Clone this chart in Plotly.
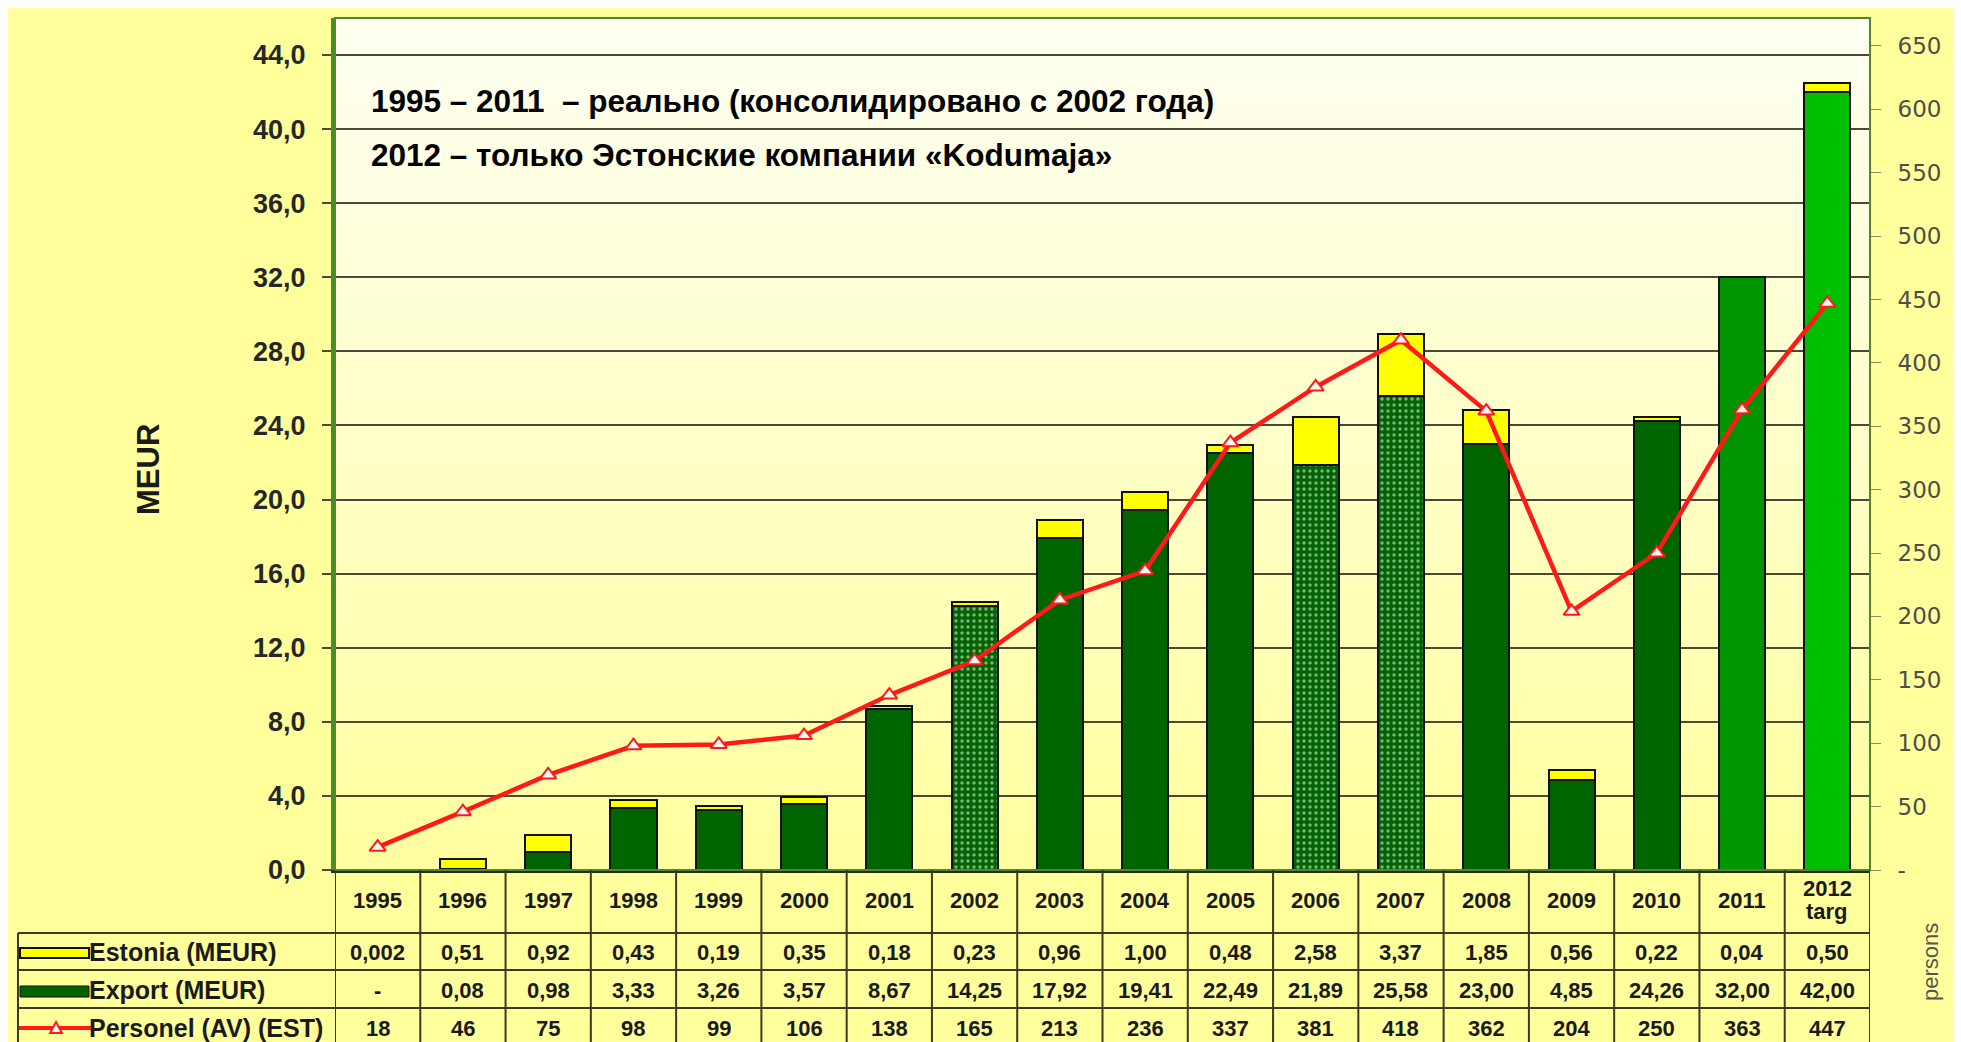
import plotly.graph_objects as go

# ---------------- data ----------------
years = ["1995", "1996", "1997", "1998", "1999", "2000", "2001", "2002", "2003",
         "2004", "2005", "2006", "2007", "2008", "2009", "2010", "2011", "2012<br>targ"]
estonia = [0.002, 0.51, 0.92, 0.43, 0.19, 0.35, 0.18, 0.23, 0.96,
           1.00, 0.48, 2.58, 3.37, 1.85, 0.56, 0.22, 0.04, 0.50]
export = [0, 0.08, 0.98, 3.33, 3.26, 3.57, 8.67, 14.25, 17.92,
          19.41, 22.49, 21.89, 25.58, 23.00, 4.85, 24.26, 32.00, 42.00]
personel = [18, 46, 75, 98, 99, 106, 138, 165, 213,
            236, 337, 381, 418, 362, 204, 250, 363, 447]
row_labels = ["Estonia (MEUR)", "Export (MEUR)", "Personel (AV) (EST)"]
note1 = "1995 – 2011 \u00a0– реально (консолидировано с 2002 года)"
note2 = "2012 – только Эстонские компании «Kodumaja»"
right_tickvals = [0, 50, 100, 150, 200, 250, 300, 350, 400, 450, 500, 550, 600, 650]
right_ticktext = ["-", "50", "100", "150", "200", "250", "300", "350", "400",
                  "450", "500", "550", "600", "650"]

# ---------------- styling ----------------
W, H = 1961, 1042
L, R, T, B = 327, 99, 10, 180
PW, PH = W - L - R, H - T - B
FONT = "Liberation Sans, Arial, sans-serif"
TXT = "#1a1a1a"
GRID = "#4a4a38"
TABLE_LINE = "#3a3a20"

export_colors = ["#006400"] * 16 + ["#009400", "#00BE00"]
export_pattern = ["" for _ in years]
for i in (7, 11, 12):  # stippled bars 2002, 2006, 2007
    export_pattern[i] = "."


def px_x(px):
    return (px - L) / PW


def px_y(py):
    return (H - B - py) / PH


def fmt(v):
    if v == 0:
        return "-"
    s = f"{v:.3f}" if v < 0.01 else f"{v:.2f}"
    return s.replace(".", ",")


fig = go.Figure()

fig.add_trace(go.Bar(
    x=years, y=export, name="Export (MEUR)",
    marker=dict(color=export_colors, line=dict(color="#111111", width=2),
                pattern=dict(shape=export_pattern, fgcolor="#3fae3f",
                             size=6, solidity=0.25)),
    showlegend=False,
))
fig.add_trace(go.Bar(
    x=years, y=estonia, name="Estonia (MEUR)",
    marker=dict(color="#FFFF00", line=dict(color="#111111", width=2)),
    showlegend=False,
))
fig.add_trace(go.Scatter(
    x=years, y=personel, yaxis="y2", name="Personel (AV) (EST)",
    mode="lines+markers",
    line=dict(color="#FF1A1A", width=4.5),
    marker=dict(symbol="triangle-up", size=14, color="#FFF4F4",
                line=dict(color="#FF1A1A", width=2)),
    showlegend=False,
))

shapes = []
# gradient plot background
n = 40
for k in range(n):
    t = k / (n - 1)
    g = int(160 + (242 - 160) * t)
    shapes.append(dict(type="rect", xref="paper", yref="paper",
                       x0=0, x1=1, y0=k / n, y1=(k + 1) / n,
                       fillcolor=f"rgb(255,255,{g})", line=dict(width=0),
                       layer="below"))
# plot frame (green)
shapes.append(dict(type="rect", xref="paper", yref="paper", x0=0, x1=1, y0=0, y1=1,
                   line=dict(color="#4f8a2a", width=2), fillcolor="rgba(0,0,0,0)",
                   layer="above"))

# table lines
row_edges = [px_y(925), px_y(962), px_y(1000), px_y(1040)]
for ye in row_edges:
    shapes.append(dict(type="line", xref="paper", yref="paper",
                       x0=px_x(10), x1=1, y0=ye, y1=ye,
                       line=dict(color=TABLE_LINE, width=2)))
for i in range(len(years) + 1):
    shapes.append(dict(type="line", xref="x", yref="paper",
                       x0=i - 0.5, x1=i - 0.5, y0=0, y1=row_edges[-1],
                       line=dict(color=TABLE_LINE, width=2)))
shapes.append(dict(type="line", xref="paper", yref="paper",
                   x0=px_x(10), x1=px_x(10), y0=row_edges[0], y1=row_edges[-1],
                   line=dict(color=TABLE_LINE, width=2)))

# legend keys in the table
shapes.append(dict(type="rect", xref="paper", yref="paper",
                   x0=px_x(12), x1=px_x(81), y0=px_y(950), y1=px_y(940),
                   fillcolor="#FFFF00", line=dict(color="#111111", width=2)))
shapes.append(dict(type="rect", xref="paper", yref="paper",
                   x0=px_x(12), x1=px_x(81), y0=px_y(989), y1=px_y(978),
                   fillcolor="#006400", line=dict(color="#111111", width=1)))
shapes.append(dict(type="line", xref="paper", yref="paper",
                   x0=px_x(11), x1=px_x(83), y0=px_y(1020), y1=px_y(1020),
                   line=dict(color="#FF1A1A", width=4)))
tx, ty = 48, 1020
shapes.append(dict(type="path", xref="paper", yref="paper",
                   path=f"M {px_x(tx-6)} {px_y(ty+5)} L {px_x(tx+6)} {px_y(ty+5)} "
                        f"L {px_x(tx)} {px_y(ty-6)} Z",
                   fillcolor="#FFF4F4", line=dict(color="#FF1A1A", width=2)))

annotations = []
cell_font = dict(family=FONT, size=22, color=TXT, weight="bold")
# year header (multi-line labels split so their line spacing is tight)
for i, yr in enumerate(years):
    parts = yr.split("<br>")
    nparts = len(parts)
    for j, part in enumerate(parts):
        cy = 892 + (j - (nparts - 1) / 2) * 23
        annotations.append(dict(x=i, y=px_y(cy), xref="x", yref="paper",
                                text=part, showarrow=False, xanchor="center",
                                yanchor="middle", font=cell_font))
# table rows
row_y = [px_y(944), px_y(982), px_y(1020)]
for vals, yy in ((estonia, row_y[0]), (export, row_y[1])):
    for i, v in enumerate(vals):
        annotations.append(dict(x=i, y=yy, xref="x", yref="paper", text=fmt(v),
                                showarrow=False, xanchor="center", yanchor="middle",
                                font=cell_font))
for i, v in enumerate(personel):
    annotations.append(dict(x=i, y=row_y[2], xref="x", yref="paper", text=str(v),
                            showarrow=False, xanchor="center", yanchor="middle",
                            font=cell_font))
for lab, yy in zip(row_labels, row_y):
    annotations.append(dict(x=px_x(79), y=yy, xref="paper", yref="paper", text=lab,
                            showarrow=False, xanchor="left", yanchor="middle",
                            font=dict(family=FONT, size=25, color=TXT, weight="bold")))
# notes
annotations.append(dict(x=px_x(361), y=px_y(93), xref="paper", yref="paper", text=note1,
                        showarrow=False, xanchor="left", yanchor="middle",
                        font=dict(family=FONT, size=31.5, color="#000000", weight="bold")))
annotations.append(dict(x=px_x(361), y=px_y(147), xref="paper", yref="paper", text=note2,
                        showarrow=False, xanchor="left", yanchor="middle",
                        font=dict(family=FONT, size=31.5, color="#000000", weight="bold")))
# axis titles
annotations.append(dict(x=px_x(140), y=px_y(462), xref="paper", yref="paper", text="MEUR",
                        showarrow=False, textangle=-90, xanchor="center", yanchor="middle",
                        font=dict(family=FONT, size=31, color=TXT, weight="bold")))
annotations.append(dict(x=px_x(1922), y=px_y(954), xref="paper", yref="paper", text="persons",
                        showarrow=False, textangle=-90, xanchor="center", yanchor="middle",
                        font=dict(family=FONT, size=22, color="#555555")))

fig.update_layout(
    width=W, height=H,
    margin=dict(l=L, r=R, t=T, b=B, pad=0),
    paper_bgcolor="#FFFF9C",
    plot_bgcolor="#FFFFD0",
    barmode="stack",
    bargap=0.46,
    separators=", ",
    showlegend=False,
    xaxis=dict(type="category", range=[-0.5, len(years) - 0.5],
               showticklabels=False, ticks="", showgrid=False,
               showline=True, linecolor="#2a2a1a", linewidth=3, zeroline=False),
    yaxis=dict(range=[0, 46], dtick=4, tick0=0, tickformat=".1f",
               showgrid=True, gridcolor=GRID, gridwidth=2,
               ticks="outside", ticklen=9, tickcolor=GRID, tickwidth=2,
               tickfont=dict(family=FONT, size=27, color="#262626", weight="bold"),
               showline=True, linecolor="#4f8a2a", linewidth=4, zeroline=False,
               ticklabelstandoff=11),
    yaxis2=dict(overlaying="y", side="right", range=[0, 672],
                tickvals=right_tickvals, ticktext=right_ticktext,
                showgrid=False, zeroline=False, showline=False,
                ticks="outside", ticklen=10, tickcolor="#8a8a6a", tickwidth=1,
                tickfont=dict(family="DejaVu Sans, Verdana, sans-serif", size=23,
                              color="#4d4d4d"),
                ticklabelstandoff=12),
    shapes=shapes,
    annotations=annotations,
)

fig.write_html("out.html")
